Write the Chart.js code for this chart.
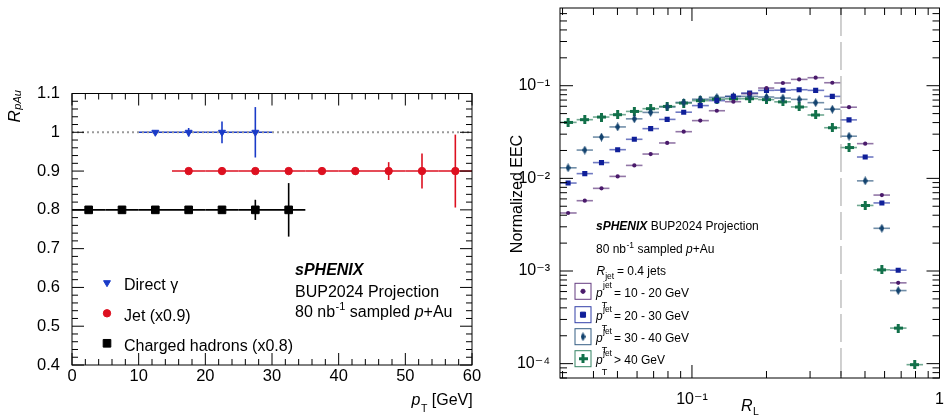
<!DOCTYPE html>
<html><head><meta charset="utf-8">
<script src="https://cdn.jsdelivr.net/npm/chart.js@4.4.1/dist/chart.umd.min.js"></script>
<style>
html,body{margin:0;padding:0;background:#fff;overflow:hidden;width:944px;height:416px}
canvas{position:absolute;top:0}
#cL{left:0;width:490px;height:416px}
#cR{left:470px;width:474px;height:416px}
</style></head>
<body>
<canvas id="cL" width="490" height="416"></canvas>
<canvas id="cR" width="474" height="416"></canvas>
<script>
// ================= DATA =================
// Left panel: R_pAu vs pT
const gammaPt    = [12.5, 17.5, 22.5, 27.5];
const gammaR     = [1.0, 1.0, 1.0, 1.0];
const gammaPtErr = [2.5, 2.5, 2.5, 2.5];
const gammaRErr  = [0.005, 0.011, 0.028, 0.065];

const jetPt    = [17.5, 22.5, 27.5, 32.5, 37.5, 42.5, 47.5, 52.5, 57.5];
const jetR     = [0.9, 0.9, 0.9, 0.9, 0.9, 0.9, 0.9, 0.9, 0.9];
const jetPtErr = [2.5, 2.5, 2.5, 2.5, 2.5, 2.5, 2.5, 2.5, 2.5];
const jetRErr  = [0.003, 0.003, 0.004, 0.005, 0.007, 0.010, 0.023, 0.045, 0.094];

const hadPt    = [2.5, 7.5, 12.5, 17.5, 22.5, 27.5, 32.5];
const hadR     = [0.8, 0.8, 0.8, 0.8, 0.8, 0.8, 0.8];
const hadPtErr = [2.5, 2.5, 2.5, 2.5, 2.5, 2.5, 2.5];
const hadRErr  = [0.001, 0.001, 0.001, 0.002, 0.004, 0.026, 0.069];

const leftXTicks = [0, 10, 20, 30, 40, 50, 60];
const leftXLabels = ['0', '10', '20', '30', '40', '50', '60'];
const leftYTicks = [0.4, 0.5, 0.6, 0.7, 0.8, 0.9, 1.0, 1.1];
const leftYLabels = ['0.4', '0.5', '0.6', '0.7', '0.8', '0.9', '1', '1.1'];
const leftLegend = ['Direct \u03B3', 'Jet (x0.9)', 'Charged hadrons (x0.8)'];

// Right panel: normalized EEC vs R_L
const rlCenters = [0.0316, 0.0369, 0.0431, 0.0501, 0.0585, 0.0681, 0.0794, 0.0926, 0.108, 0.126, 0.147,
                   0.171, 0.200, 0.233, 0.271, 0.316, 0.369, 0.431, 0.501, 0.585, 0.681, 0.794];
const rlEdges   = [0.0293, 0.0342, 0.0398, 0.0464, 0.0541, 0.0631, 0.0736, 0.0858, 0.100, 0.117, 0.136, 0.158,
                   0.185, 0.215, 0.251, 0.293, 0.342, 0.398, 0.464, 0.541, 0.631, 0.736, 0.858];
const eec10to20 = [0.00423, 0.00574, 0.0078, 0.0105, 0.0138, 0.0183, 0.0241, 0.0319, 0.042, 0.0537, 0.0672,
                   0.082, 0.0944, 0.107, 0.117, 0.122, 0.1077, 0.0586, 0.0237, 0.0066, 0.000745];
const eec20to30 = [0.0089, 0.01125, 0.0148, 0.0204, 0.0264, 0.0344, 0.0433, 0.0518, 0.061, 0.069, 0.0767,
                   0.0834, 0.0891, 0.0895, 0.0905, 0.0891, 0.0767, 0.0428, 0.0170, 0.00543, 0.00102];
const eec30to40 = [0.0130, 0.0202, 0.0279, 0.0359, 0.0439, 0.0515, 0.059, 0.066, 0.0715, 0.0748, 0.0765,
                   0.0767, 0.0755, 0.0736, 0.0712, 0.0656, 0.0558, 0.0285, 0.0094, 0.00289, 0.000615];
const eec40up   = [0.0402, 0.043, 0.0459, 0.0487, 0.0528, 0.0565, 0.0598, 0.065, 0.069, 0.0715, 0.0722,
                   0.0724, 0.0708, 0.067, 0.059, 0.0483, 0.0352, 0.0215, 0.0051, 0.00103, 0.000242, 0.0000975];

const rightXTicks = [0.1, 1];
const rightXLabels = ['10\u207B\u00B9', '1'];
const rightYTicks = [1e-4, 1e-3, 1e-2, 1e-1];
const rightYLabels = ['10\u207B\u2074', '10\u207B\u00B3', '10\u207B\u00B2', '10\u207B\u00B9'];
const rightLegend = ['= 10 - 20 GeV', '= 20 - 30 GeV', '= 30 - 40 GeV', '> 40 GeV'];
const jetRadiusCut = 0.4;

// ================= STYLE =================
const FF = "'Liberation Sans', 'DejaVu Sans', Arial, sans-serif";
const C_BLUE = '#1a3bc8', C_RED = '#dd1020', C_BLACK = '#000000';
const C_P1 = '#4a1a6b', C_P2 = '#0f1f99', C_P3 = '#12426e', C_P4 = '#12704a';

function mkDiamond(color, w, h) {
  const c = document.createElement('canvas'); c.width = w; c.height = h;
  const g = c.getContext('2d'); g.fillStyle = color; g.beginPath();
  g.moveTo(w / 2, 0); g.lineTo(w, h / 2); g.lineTo(w / 2, h); g.lineTo(0, h / 2); g.closePath(); g.fill();
  return c;
}
function mkCross(color, s, t) {
  const c = document.createElement('canvas'); c.width = s; c.height = s;
  const g = c.getContext('2d'); g.fillStyle = color;
  g.fillRect((s - t) / 2, 0, t, s); g.fillRect(0, (s - t) / 2, s, t);
  return c;
}
const diamondImg = mkDiamond(C_P3, 5, 9);
const crossImg = mkCross(C_P4, 9, 3);

function pts(xs, ys) { return ys.map((y, i) => ({ x: xs[i], y })); }
function rgba(hex, a) {
  const n = parseInt(hex.slice(1), 16);
  return `rgba(${(n >> 16) & 255},${(n >> 8) & 255},${n & 255},${a})`;
}

// ================= PLUGINS =================
function line(ctx, x1, y1, x2, y2) { ctx.beginPath(); ctx.moveTo(x1, y1); ctx.lineTo(x2, y2); ctx.stroke(); }

const errorBars = {
  id: 'errorBars',
  beforeDatasetsDraw(chart) {
    const { ctx, scales: { x, y } } = chart;
    ctx.save();
    chart.data.datasets.forEach(ds => {
      ctx.strokeStyle = ds.barColor; ctx.lineWidth = ds.barWidth;
      ds.data.forEach((p, i) => {
        const px = x.getPixelForValue(p.x), py = y.getPixelForValue(p.y);
        if (ds.xLo) line(ctx, x.getPixelForValue(ds.xLo[i]), py, x.getPixelForValue(ds.xHi[i]), py);
        if (ds.yErr && ds.yErr[i]) line(ctx, px, y.getPixelForValue(p.y - ds.yErr[i]), px, y.getPixelForValue(p.y + ds.yErr[i]));
      });
    });
    ctx.restore();
  }
};

function tickList(scale, cfg) {
  const out = [];
  if (cfg.type === 'lin') {
    const n = Math.round((scale.max - scale.min) / cfg.minor);
    for (let k = 0; k <= n; k++) {
      const v = scale.min + k * cfg.minor;
      const r = v / cfg.major;
      out.push([v, Math.abs(r - Math.round(r)) < 1e-6]);
    }
  } else {
    const d0 = Math.floor(Math.log10(scale.min)), d1 = Math.ceil(Math.log10(scale.max));
    for (let d = d0; d <= d1; d++) for (let m = 1; m <= 9; m++) {
      const v = m * Math.pow(10, d);
      if (v >= scale.min * 0.9999 && v <= scale.max * 1.0001) out.push([v, m === 1]);
    }
  }
  return out;
}
function framePlugin(cfg) {
  return {
    id: 'rootFrame',
    afterDraw(chart) {
      const { ctx, chartArea: a, scales: { x, y } } = chart;
      ctx.save(); ctx.strokeStyle = '#000'; ctx.lineWidth = 1;
      ctx.strokeRect(a.left, a.top, a.right - a.left, a.bottom - a.top);
      for (const [v, maj] of tickList(x, cfg.x)) {
        const px = x.getPixelForValue(v), L = maj ? cfg.maj : cfg.min;
        line(ctx, px, a.bottom, px, a.bottom - L); line(ctx, px, a.top, px, a.top + L);
      }
      for (const [v, maj] of tickList(y, cfg.y)) {
        const py = y.getPixelForValue(v), L = maj ? cfg.maj : cfg.min;
        line(ctx, a.left, py, a.left + L, py); line(ctx, a.right, py, a.right - L, py);
      }
      ctx.restore();
    }
  };
}

function drawSegs(ctx, x, y, segs) {
  let cx = x;
  for (const s of segs) {
    ctx.font = s.f; ctx.fillText(s.t, cx + (s.dx || 0), y + (s.dy || 0));
    cx += ctx.measureText(s.t).width + (s.dx || 0);
  }
  return cx;
}
function segsWidth(ctx, segs) {
  let w = 0; for (const s of segs) { ctx.font = s.f; w += ctx.measureText(s.t).width + (s.dx || 0); } return w;
}

function axisCommon(ticksArr, labelsArr, size, pad, fixed) {
  return {
    grid: { display: false }, border: { display: false },
    afterBuildTicks: s => { s.ticks = ticksArr.map(v => ({ value: v })); },
    afterFit: s => { Object.assign(s, fixed); s.paddingLeft = 0; s.paddingRight = 0; s.paddingTop = 0; s.paddingBottom = 0; },
    ticks: { autoSkip: false, maxRotation: 0, minRotation: 0, padding: pad, color: '#000',
             font: { family: FF, size: size }, callback: (v, i) => labelsArr[i] }
  };
}

// ================= LEFT CHART =================
const leftText = {
  id: 'leftText',
  beforeDatasetsDraw(chart) {
    const { ctx, scales: { x, y } } = chart;
    ctx.save(); ctx.strokeStyle = '#9a9a9a'; ctx.lineWidth = 2; ctx.setLineDash([2, 3]);
    line(ctx, x.getPixelForValue(0), y.getPixelForValue(1), x.getPixelForValue(60), y.getPixelForValue(1));
    ctx.restore();
  },
  afterDraw(chart) {
    const ctx = chart.ctx;
    ctx.save(); ctx.fillStyle = '#000'; ctx.textBaseline = 'alphabetic'; ctx.textAlign = 'left';
    // y title R_pAu
    ctx.save(); ctx.translate(19.5, 122.5); ctx.rotate(-Math.PI / 2);
    drawSegs(ctx, 0, 0, [{ t: 'R', f: `italic 17px ${FF}` }, { t: 'pAu', f: `italic 11px ${FF}`, dy: 1.5, dx: 0.5 }]);
    ctx.restore();
    // x title p_T [GeV]
    const xt = [{ t: 'p', f: `italic 16px ${FF}` }, { t: 'T', f: `10.5px ${FF}`, dy: 7, dx: 0.5 }, { t: ' [GeV]', f: `16px ${FF}` }];
    drawSegs(ctx, 472.7 - segsWidth(ctx, xt), 405, xt);
    // legend
    const rows = [282.7, 313.3, 343.3];
    chart.data.datasets.forEach((ds, i) => {
      ctx.save();
      ctx.fillStyle = ds.backgroundColor; ctx.strokeStyle = ds.borderColor; ctx.lineWidth = 1;
      Chart.helpers.drawPoint(ctx, { pointStyle: ds.pointStyle, rotation: ds.rotation || 0, radius: ds.pointRadius, borderWidth: 1 }, 107, rows[i]);
      ctx.restore();
      ctx.font = `16px ${FF}`; ctx.fillText(leftLegend[i], 124, rows[i] + 7.5);
    });
    // annotation
    ctx.font = `italic bold 16px ${FF}`; ctx.fillText('sPHENIX', 295, 275);
    ctx.font = `16px ${FF}`; ctx.fillText('BUP2024 Projection', 295, 296.5);
    drawSegs(ctx, 295, 316.5, [{ t: '80 nb', f: `16px ${FF}` }, { t: '-1', f: `11px ${FF}`, dy: -7, dx: 0.5 },
      { t: ' sampled ', f: `16px ${FF}` }, { t: 'p', f: `italic 16px ${FF}` }, { t: '+Au', f: `16px ${FF}` }]);
    ctx.restore();
  }
};

new Chart(document.getElementById('cL'), {
  type: 'scatter',
  data: {
    datasets: [
      { label: leftLegend[0], data: pts(gammaPt, gammaR), pointStyle: 'triangle', rotation: 180, pointRadius: 4,
        backgroundColor: C_BLUE, borderColor: C_BLUE, borderWidth: 1, barColor: C_BLUE, barWidth: 1.6,
        xLo: gammaPt.map((v, i) => v - gammaPtErr[i]), xHi: gammaPt.map((v, i) => v + gammaPtErr[i]), yErr: gammaRErr },
      { label: leftLegend[1], data: pts(jetPt, jetR), pointStyle: 'circle', pointRadius: 3.7,
        backgroundColor: C_RED, borderColor: C_RED, borderWidth: 1, barColor: C_RED, barWidth: 1.6,
        xLo: jetPt.map((v, i) => v - jetPtErr[i]), xHi: jetPt.map((v, i) => v + jetPtErr[i]), yErr: jetRErr },
      { label: leftLegend[2], data: pts(hadPt, hadR), pointStyle: 'rect', pointRadius: 5.4,
        backgroundColor: C_BLACK, borderColor: C_BLACK, borderWidth: 1, barColor: C_BLACK, barWidth: 1.6,
        xLo: hadPt.map((v, i) => v - hadPtErr[i]), xHi: hadPt.map((v, i) => v + hadPtErr[i]), yErr: hadRErr }
    ]
  },
  options: {
    responsive: false, animation: false, devicePixelRatio: 1, events: [],
    layout: { padding: { top: 93.5, right: 18, bottom: 0, left: 0 } },
    plugins: { legend: { display: false }, tooltip: { enabled: false } },
    scales: {
      x: Object.assign({ type: 'linear', min: 0, max: 60 }, axisCommon(leftXTicks, leftXLabels, 16.5, -6, { height: 51 })),
      y: Object.assign({ type: 'linear', min: 0.4, max: 1.1 }, axisCommon(leftYTicks, leftYLabels, 16.5, 4, { width: 72 }))
    }
  },
  plugins: [errorBars, leftText, framePlugin({ x: { type: 'lin', major: 10, minor: 2 }, y: { type: 'lin', major: 0.1, minor: 0.02 }, maj: 12, min: 6 })]
});

// ================= RIGHT CHART =================
const OX = 470; // canvas offset in page
const rightText = {
  id: 'rightText',
  beforeDatasetsDraw(chart) {
    const { ctx, chartArea: a, scales: { x } } = chart;
    ctx.save(); ctx.strokeStyle = '#a0a0a0'; ctx.lineWidth = 1; ctx.setLineDash([28, 6]);
    const px = x.getPixelForValue(jetRadiusCut);
    line(ctx, px, a.top, px, a.bottom);
    ctx.restore();
  },
  afterDraw(chart) {
    const ctx = chart.ctx;
    ctx.save(); ctx.fillStyle = '#000'; ctx.textBaseline = 'alphabetic'; ctx.textAlign = 'left';
    // y title
    ctx.save(); ctx.translate(521.7 - OX, 194); ctx.rotate(-Math.PI / 2);
    ctx.textAlign = 'center'; ctx.font = `16px ${FF}`; ctx.fillText('Normalized EEC', 0, 0);
    ctx.restore();
    // x title R_L
    const xt = [{ t: 'R', f: `italic 16px ${FF}` }, { t: 'L', f: `10.5px ${FF}`, dy: 4.5, dx: 0.5 }];
    drawSegs(ctx, 750 - OX - segsWidth(ctx, xt) / 2, 410.7, xt);
    // annotation
    const X0 = 596 - OX;
    drawSegs(ctx, X0, 230, [{ t: 'sPHENIX', f: `italic bold 12px ${FF}` }, { t: ' BUP2024 Projection', f: `12px ${FF}` }]);
    drawSegs(ctx, X0, 252.7, [{ t: '80 nb', f: `12px ${FF}` }, { t: '-1', f: `8.5px ${FF}`, dy: -5, dx: 0.5 },
      { t: ' sampled ', f: `12px ${FF}` }, { t: 'p', f: `italic 12px ${FF}` }, { t: '+Au', f: `12px ${FF}` }]);
    drawSegs(ctx, X0 + 0.5, 274.5, [{ t: 'R', f: `italic 12px ${FF}` }, { t: 'jet', f: `8.5px ${FF}`, dy: 4, dx: 0 }]);
    ctx.font = `12px ${FF}`; ctx.fillText('= 0.4 jets', 617 - OX, 274.5);
    // legend
    const rows = [291.3, 314.7, 336.7, 358.7];
    chart.data.datasets.forEach((ds, i) => {
      const cy = rows[i];
      ctx.save(); ctx.strokeStyle = ds.boxColor; ctx.lineWidth = 1;
      ctx.strokeRect(575 - OX, cy - 8, 16, 16);
      ctx.fillStyle = ds.backgroundColor; ctx.strokeStyle = ds.borderColor;
      Chart.helpers.drawPoint(ctx, { pointStyle: ds.pointStyle, rotation: 0, radius: ds.pointRadius, borderWidth: 1 }, 583 - OX, cy);
      ctx.restore();
      ctx.font = `italic 12px ${FF}`; ctx.fillText('p', X0, cy + 5.4);
      ctx.font = `8.5px ${FF}`; ctx.fillText('jet', 603 - OX, cy - 3.2);
      ctx.font = `9px ${FF}`; ctx.fillText('T', 601.7 - OX, cy + 16.5);
      ctx.font = `12px ${FF}`; ctx.fillText(rightLegend[i], 614 - OX, cy + 5.4);
    });
    ctx.restore();
  }
};

function eecSet(label, vals, color, style, radius) {
  const n = vals.length;
  return { label, data: pts(rlCenters, vals), pointStyle: style, pointRadius: radius,
           backgroundColor: color, borderColor: color, borderWidth: 0, boxColor: rgba(color, 0.85),
           barColor: rgba(color, 0.6), barWidth: 1.6,
           xLo: rlEdges.slice(0, n), xHi: rlEdges.slice(1, n + 1) };
}

new Chart(document.getElementById('cR'), {
  type: 'scatter',
  data: {
    datasets: [
      eecSet('pT jet 10-20 GeV', eec10to20, C_P1, 'circle', 2.1),
      eecSet('pT jet 20-30 GeV', eec20to30, C_P2, 'rect', 3.6),
      eecSet('pT jet 30-40 GeV', eec30to40, C_P3, diamondImg, 4),
      eecSet('pT jet > 40 GeV', eec40up, C_P4, crossImg, 4.5)
    ]
  },
  options: {
    responsive: false, animation: false, devicePixelRatio: 1, events: [],
    layout: { padding: { top: 8, right: 4, bottom: 0, left: 0 } },
    plugins: { legend: { display: false }, tooltip: { enabled: false } },
    scales: {
      x: Object.assign({ type: 'logarithmic', min: 0.0293, max: 1 }, axisCommon(rightXTicks, rightXLabels, 16, 4, { height: 38 })),
      y: Object.assign({ type: 'logarithmic', min: 7.0e-5, max: 0.69 }, axisCommon(rightYTicks, rightYLabels, 16, 2, { width: 90 }))
    }
  },
  plugins: [errorBars, rightText, framePlugin({ x: { type: 'log' }, y: { type: 'log' }, maj: 13, min: 7 })]
});
</script>
</body></html>
